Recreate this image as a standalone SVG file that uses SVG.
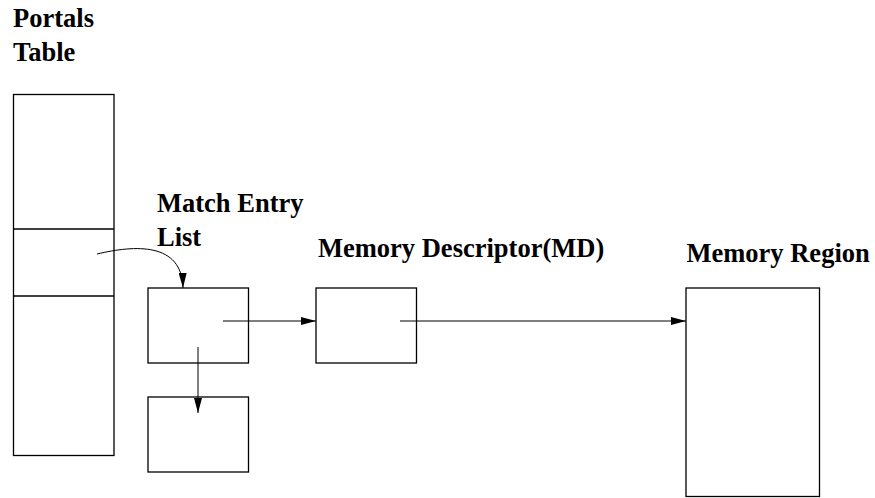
<svg xmlns="http://www.w3.org/2000/svg" width="875" height="498" viewBox="0 0 875 498">
<style>
.box{fill:#fff;stroke:#000;stroke-width:1.3}
.lbl{font-family:"Liberation Serif","Times New Roman",serif;font-weight:bold;font-size:26.5px;fill:#000}
.conn{fill:none;stroke:#000;stroke-width:1}
</style>
<defs>
<marker id="ah" viewBox="0 0 15 8" refX="15" refY="4" markerWidth="15" markerHeight="8" markerUnits="userSpaceOnUse" orient="auto">
<path d="M0,0 L15,4 L0,8 z" fill="#000"/>
</marker>
</defs>
<rect width="875" height="498" fill="#fff"/>
<g id="portals-table">
<text class="lbl" x="13" y="27">Portals</text>
<text class="lbl" x="13" y="61">Table</text>
<rect class="box" x="13.5" y="94.5" width="100.5" height="361"/>
<line class="box" x1="13.5" y1="229" x2="114" y2="229"/>
<line class="box" x1="13.5" y1="296" x2="114" y2="296"/>
</g>
<g id="match-entry-list">
<text class="lbl" x="157" y="212">Match Entry</text>
<text class="lbl" x="157" y="245.5">List</text>
<rect class="box" x="148" y="288" width="100.5" height="75"/>
</g>
<g id="match-entry-2">
<rect class="box" x="148" y="397" width="100.5" height="75"/>
</g>
<g id="memory-descriptor">
<text class="lbl" x="318" y="256.5">Memory Descriptor(MD)</text>
<rect class="box" x="316" y="288" width="100.5" height="75"/>
</g>
<g id="memory-region">
<text class="lbl" x="686.5" y="261.5">Memory Region</text>
<rect class="box" x="686" y="288" width="133.5" height="208.5"/>
</g>
<g id="connectors">
<path class="conn" d="M97,254 C135,245 182,242 183,288" marker-end="url(#ah)"/>
<line class="conn" x1="223" y1="321" x2="316" y2="321" marker-end="url(#ah)"/>
<line class="conn" x1="198" y1="347" x2="198" y2="413" marker-end="url(#ah)"/>
<line class="conn" x1="400" y1="321" x2="686" y2="321" marker-end="url(#ah)"/>
</g>
</svg>
